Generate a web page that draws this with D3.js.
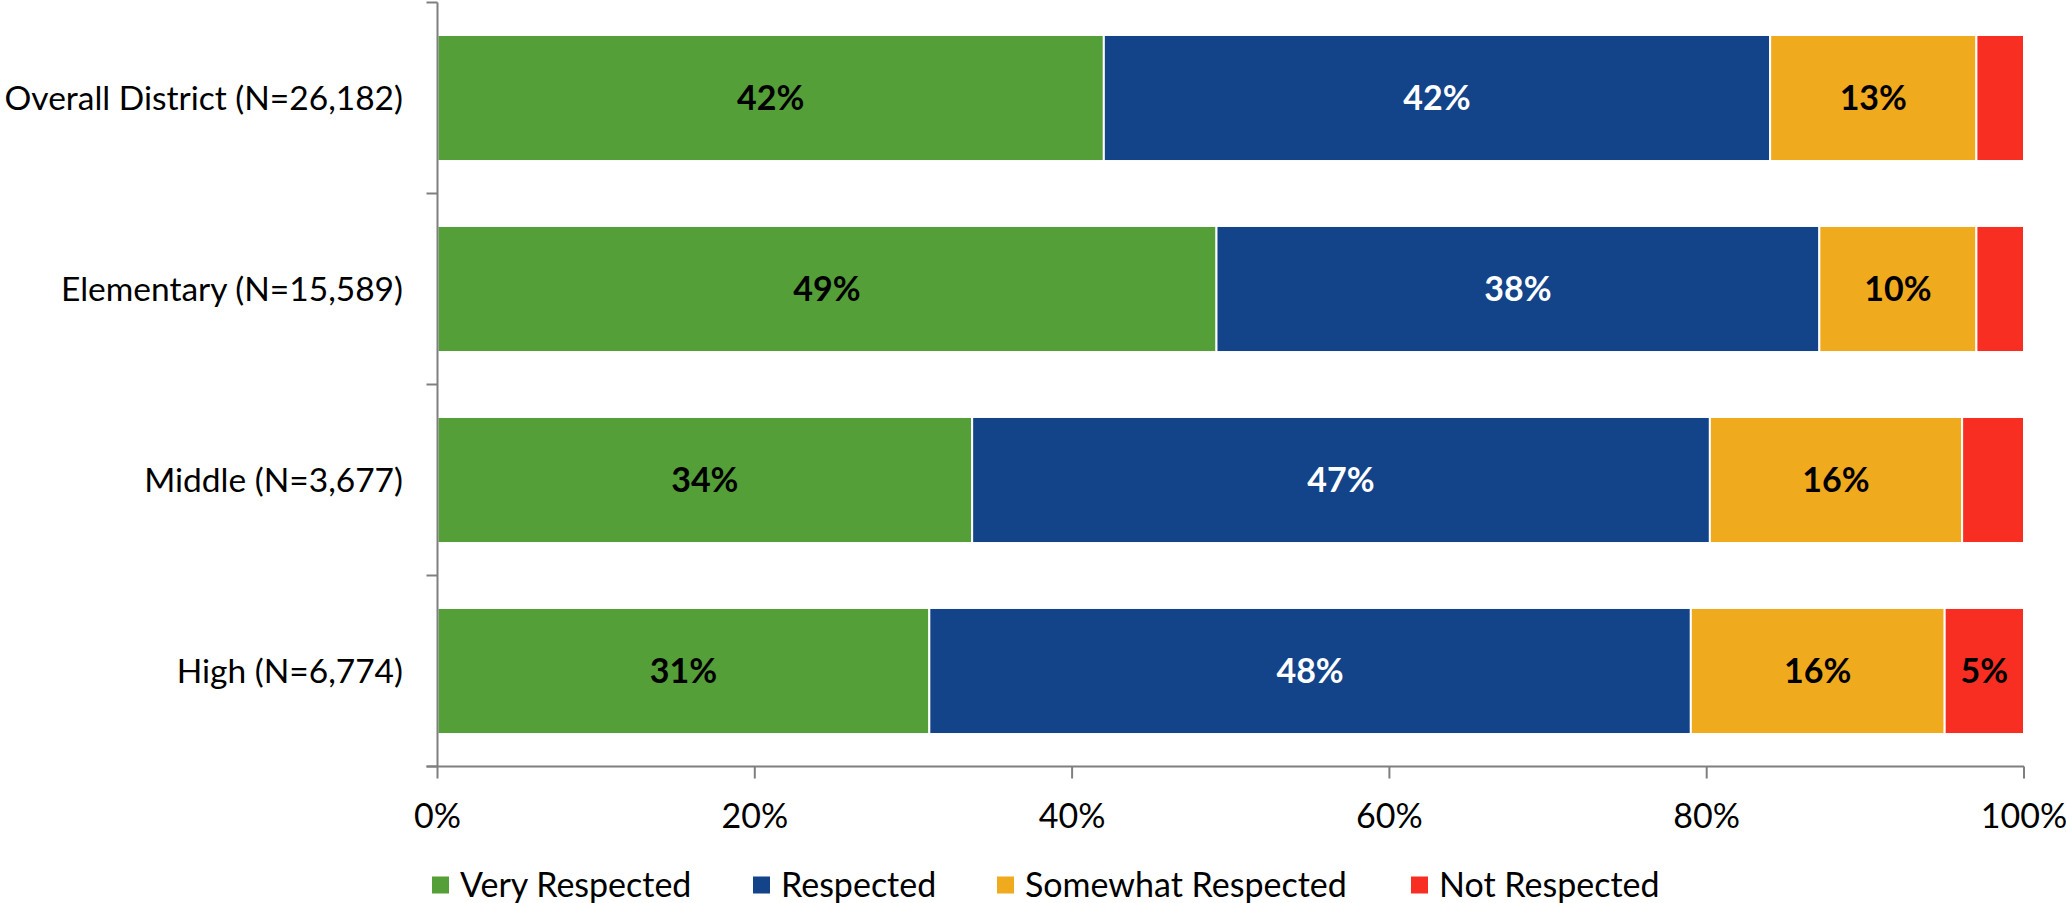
<!DOCTYPE html>
<html><head><meta charset="utf-8">
<script src="https://cdn.jsdelivr.net/npm/d3@7"></script>
<style>body{margin:0;background:#fff}svg{display:block}</style>
</head><body>
<svg id="c" width="2066" height="903"></svg>
<script>
const categories = ["Overall District (N=26,182)", "Elementary (N=15,589)", "Middle (N=3,677)", "High (N=6,774)"];
const seriesNames = ["Very Respected", "Respected", "Somewhat Respected", "Not Respected"];
const veryRespected = [42.0, 49.1, 33.7, 31.0];
const respected = [42.0, 38.0, 46.5, 48.0];
const somewhatRespected = [13.0, 9.9, 15.9, 16.0];
const notRespected = [3.0, 3.0, 3.9, 5.0];
const xTicks = [0, 20, 40, 60, 80, 100];
const colors = ["#549F38", "#134389", "#F0AA1E", "#F92E23"];
const labelColors = ["#000", "#fff", "#000", "#000"];

const FONT = "Lato, 'Open Sans', sans-serif";
const svg = d3.select("#c");
const x = d3.scaleLinear().domain([0, 100]).range([437.5, 2024]);
const y = d3.scaleBand().domain(categories).range([2.5, 766.5]).paddingInner(0.34).paddingOuter(0.17);

const seriesVals = [veryRespected, respected, somewhatRespected, notRespected];
const rows = categories.map((c, i) => {
  const o = {cat: c};
  seriesNames.forEach((s, j) => o[s] = seriesVals[j][i]);
  return o;
});
const stack = d3.stack().keys(seriesNames)(rows);

const g = svg.append("g");
stack.forEach((layer, j) => {
  g.selectAll(null).data(layer).enter().append("rect")
    .attr("x", d => x(d[0]))
    .attr("y", d => y(d.data.cat))
    .attr("width", d => x(d[1]) - x(d[0]))
    .attr("height", y.bandwidth())
    .attr("fill", colors[j])
    .attr("stroke", "#fff").attr("stroke-width", 2);
  g.selectAll(null).data(layer.filter(d => d[1] - d[0] >= 4.5)).enter().append("text")
    .attr("x", d => (x(d[0]) + x(d[1])) / 2)
    .attr("y", d => y(d.data.cat) + y.bandwidth() / 2)
    .attr("dy", "0.35em")
    .attr("text-anchor", "middle")
    .attr("font-family", FONT).attr("font-weight", "bold").attr("font-size", 34)
    .attr("fill", labelColors[j])
    .text(d => Math.round(d[1] - d[0]) + "%");
});

// axes
const axisColor = "#7f7f7f";
const x0 = x(0), yb = y.range()[1], yt = y.range()[0];
svg.append("line").attr("x1", x0).attr("x2", x0).attr("y1", yt).attr("y2", yb)
  .attr("stroke", axisColor).attr("stroke-width", 2);
svg.append("line").attr("x1", x0 - 11).attr("x2", x(100)).attr("y1", yb).attr("y2", yb)
  .attr("stroke", axisColor).attr("stroke-width", 2);
const bounds = categories.map(c => y(c) - y.step() * y.paddingInner() / 2).concat([yb]);
svg.selectAll(null).data(bounds).enter().append("line")
  .attr("x1", x0 - 11).attr("x2", x0).attr("y1", d => d).attr("y2", d => d)
  .attr("stroke", axisColor).attr("stroke-width", 2);
svg.selectAll(null).data(xTicks).enter().append("line")
  .attr("x1", d => x(d)).attr("x2", d => x(d)).attr("y1", yb).attr("y2", yb + 12)
  .attr("stroke", axisColor).attr("stroke-width", 2);
svg.selectAll(null).data(xTicks).enter().append("text")
  .attr("x", d => x(d)).attr("y", 828).attr("text-anchor", "middle")
  .attr("font-family", FONT).attr("font-size", 34).attr("fill", "#000")
  .text(d => d + "%");
svg.selectAll(null).data(categories).enter().append("text")
  .attr("x", 403).attr("y", d => y(d) + y.bandwidth() / 2).attr("dy", "0.35em")
  .attr("text-anchor", "end")
  .attr("font-family", FONT).attr("font-size", 33.5).attr("fill", "#000")
  .text(d => d);

// legend
const legendX = [432, 753, 997, 1411];
const lg = svg.selectAll(null).data(seriesNames).enter().append("g")
  .attr("transform", (d, i) => `translate(${legendX[i]},885)`);
lg.append("rect").attr("x", 0).attr("y", -8.5).attr("width", 17).attr("height", 17)
  .attr("fill", (d, i) => colors[i]);
lg.append("text").attr("x", 28).attr("dy", "0.35em")
  .attr("font-family", FONT).attr("font-size", 34).attr("fill", "#000").text(d => d);
</script>
</body></html>
